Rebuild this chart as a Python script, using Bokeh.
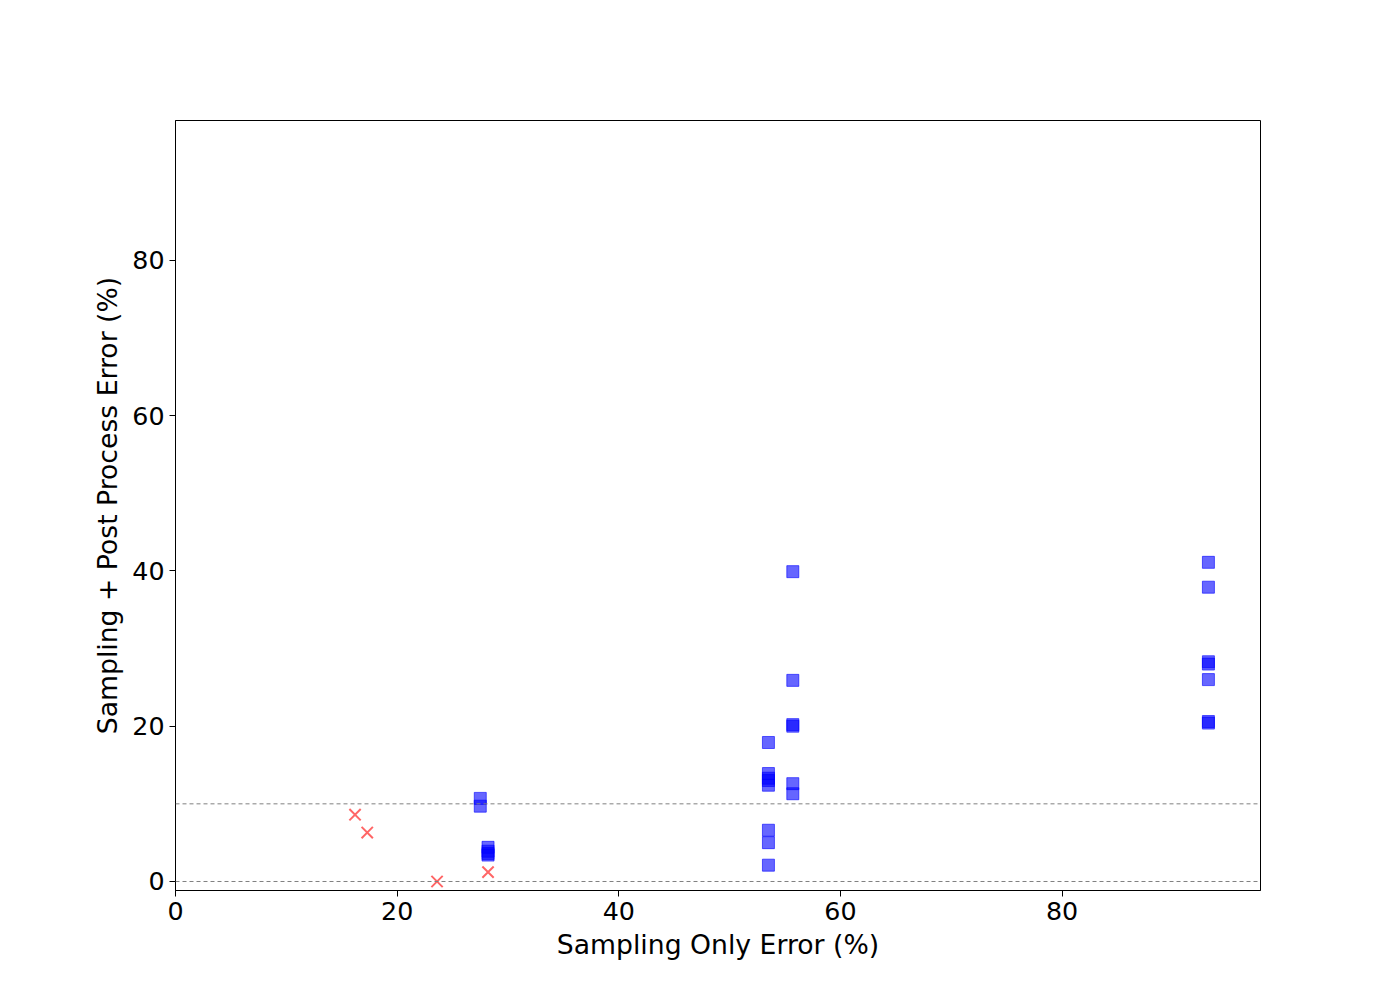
from bokeh.plotting import figure
from bokeh.models import Span, Range1d
from bokeh.embed import file_html
from bokeh.resources import INLINE

# datos
blue_x = [27.5, 27.5, 28.2, 28.2, 28.2, 28.2,
          53.5, 53.5, 53.5, 53.5, 53.5, 53.5, 53.5, 53.5,
          55.7, 55.7, 55.7, 55.7, 55.7, 55.7,
          93.2, 93.2, 93.2, 93.2, 93.2, 93.2, 93.2]
blue_y = [10.7, 9.7, 4.4, 3.9, 3.6, 3.4,
          17.9, 13.9, 13.3, 13.0, 12.4, 6.6, 5.0, 2.1,
          39.9, 25.9, 20.2, 20.0, 12.6, 11.3,
          41.1, 37.9, 28.3, 28.0, 26.0, 20.6, 20.4]
red_x = [16.2, 17.3, 23.6, 28.2]
red_y = [8.6, 6.3, 0.0, 1.2]
thresholds = [0, 10]

p = figure(width=1384, height=980, output_backend="svg", toolbar_location=None,
           x_range=Range1d(0, 97.9), y_range=Range1d(-1.16, 98.0),
           x_axis_label="Sampling Only Error (%)",
           y_axis_label="Sampling + Post Process Error (%)",
           min_border_left=175, min_border_right=124, min_border_top=120, min_border_bottom=90)

for t in thresholds:
    p.add_layout(Span(location=t, dimension="width", line_color="gray",
                      line_dash="4 3", line_width=1))

p.scatter(blue_x, blue_y, marker="square", size=12, color="blue", alpha=0.6)
p.scatter(red_x, red_y, marker="x", size=16, line_color="red", line_width=2, alpha=0.6)

p.grid.visible = False
p.outline_line_color = "black"
p.xaxis.ticker = [0, 20, 40, 60, 80]
p.yaxis.ticker = [0, 20, 40, 60, 80]
for ax in (p.xaxis, p.yaxis):
    ax.axis_label_text_font = "DejaVu Sans"
    ax.axis_label_text_font_size = "20pt"
    ax.axis_label_text_font_style = "normal"
    ax.axis_label_text_color = "black"
    ax.major_label_text_font = "DejaVu Sans"
    ax.major_label_text_font_size = "19pt"
    ax.major_label_text_color = "black"
    ax.minor_tick_line_color = None
    ax.major_tick_out = 6
    ax.major_tick_in = 0
    ax.axis_label_standoff = 6

open("out.html", "w").write(file_html(p, INLINE))
